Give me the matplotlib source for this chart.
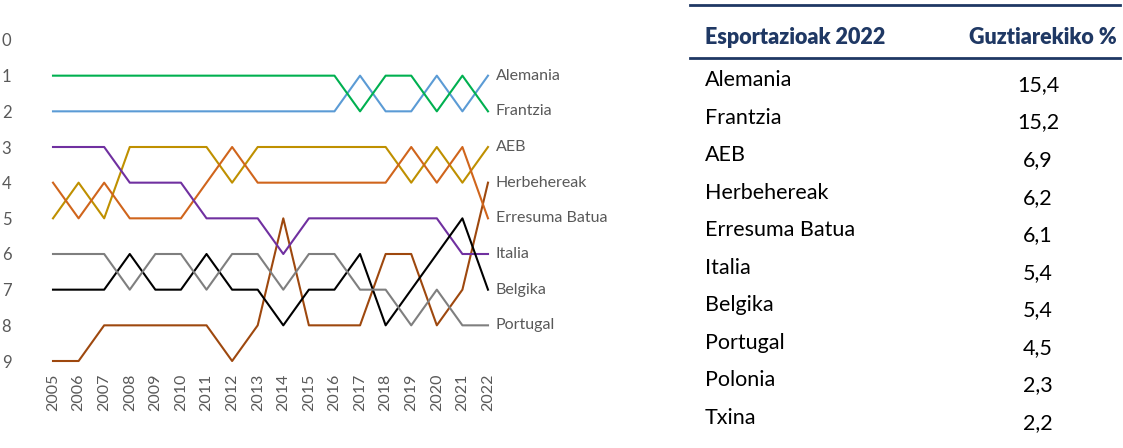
import numpy as np
import matplotlib
matplotlib.use('Agg')
import matplotlib.pyplot as plt

plt.rcParams['font.family'] = ['Lato', 'DejaVu Sans']

# urteak eta postuak (rankinga)
years = list(range(2005, 2023))

alemania = [2, 2, 2, 2, 2, 2, 2, 2, 2, 2, 2, 2, 1, 2, 2, 1, 2, 1]
frantzia = [1, 1, 1, 1, 1, 1, 1, 1, 1, 1, 1, 1, 2, 1, 1, 2, 1, 2]
aeb = [5, 4, 5, 3, 3, 3, 3, 4, 3, 3, 3, 3, 3, 3, 4, 3, 4, 3]
herbehereak = [9, 9, 8, 8, 8, 8, 8, 9, 8, 5, 8, 8, 8, 6, 6, 8, 7, 4]
erresuma = [4, 5, 4, 5, 5, 5, 4, 3, 4, 4, 4, 4, 4, 4, 3, 4, 3, 5]
italia = [3, 3, 3, 4, 4, 4, 5, 5, 5, 6, 5, 5, 5, 5, 5, 5, 6, 6]
belgika = [7, 7, 7, 6, 7, 7, 6, 7, 7, 8, 7, 7, 6, 8, 7, 6, 5, 7]
portugal = [6, 6, 6, 7, 6, 6, 7, 6, 6, 7, 6, 6, 7, 7, 8, 7, 8, 8]

series = [
    ('Alemania', alemania, '#5B9BD5'),
    ('Frantzia', frantzia, '#00B050'),
    ('AEB', aeb, '#BF9000'),
    ('Herbehereak', herbehereak, '#9E480E'),
    ('Erresuma Batua', erresuma, '#D0651C'),
    ('Italia', italia, '#7030A0'),
    ('Belgika', belgika, '#000000'),
    ('Portugal', portugal, '#7F7F7F'),
]

# taula
tab_herriak = ['Alemania', 'Frantzia', 'AEB', 'Herbehereak', 'Erresuma Batua',
               'Italia', 'Belgika', 'Portugal', 'Polonia', 'Txina']
tab_ehunekoak = ['15,4', '15,2', '6,9', '6,2', '6,1', '5,4', '5,4', '4,5', '2,3', '2,2']

W, H = 1123, 448
fig = plt.figure(figsize=(W / 100, H / 100), dpi=100)

ax = fig.add_axes([53 / W, 87 / H, 435 / W, 321 / H])
for name, vals, col in series:
    ax.plot(years, vals, color=col, lw=1.5, clip_on=False)
    ax.text(years[-1] + 0.3, vals[-1], name, color='#595959', fontsize=11.5,
            va='center', ha='left')

ax.set_xlim(2005, 2022)
ax.set_ylim(9, 0)
ax.set_yticks(range(0, 10))
ax.set_xticks(years)
ax.set_xticklabels([str(y) for y in years], rotation=90)
ax.tick_params(axis='y', length=0, pad=30, labelsize=12, labelcolor='#595959')
ax.tick_params(axis='x', length=0, pad=9, labelsize=11.5, labelcolor='#595959')
for s in ax.spines.values():
    s.set_visible(False)

# taula eskuinean
navy = '#1F3864'
fig.add_artist(plt.Line2D([690 / W, 1120 / W], [1 - 5 / H, 1 - 5 / H], color=navy, lw=2))
fig.add_artist(plt.Line2D([690 / W, 1120 / W], [1 - 58 / H, 1 - 58 / H], color=navy, lw=2))
fig.text(705 / W, 1 - 38 / H, 'Esportazioak 2022', color=navy, fontsize=15.5,
         fontweight='heavy', va='center', ha='left')
fig.text(1117 / W, 1 - 38 / H, 'Guztiarekiko %', color=navy, fontsize=15.5,
         fontweight='heavy', va='center', ha='right')

row_y = np.linspace(80, 418, len(tab_herriak))
for i, (h, p) in enumerate(zip(tab_herriak, tab_ehunekoak)):
    fig.text(705 / W, 1 - row_y[i] / H, h, fontsize=15.5, va='center', ha='left')
    fig.text(1038 / W, 1 - (row_y[i] + 5) / H, p, fontsize=15.5, va='center', ha='center')

fig.savefig('out.png', dpi=100, facecolor='white')
